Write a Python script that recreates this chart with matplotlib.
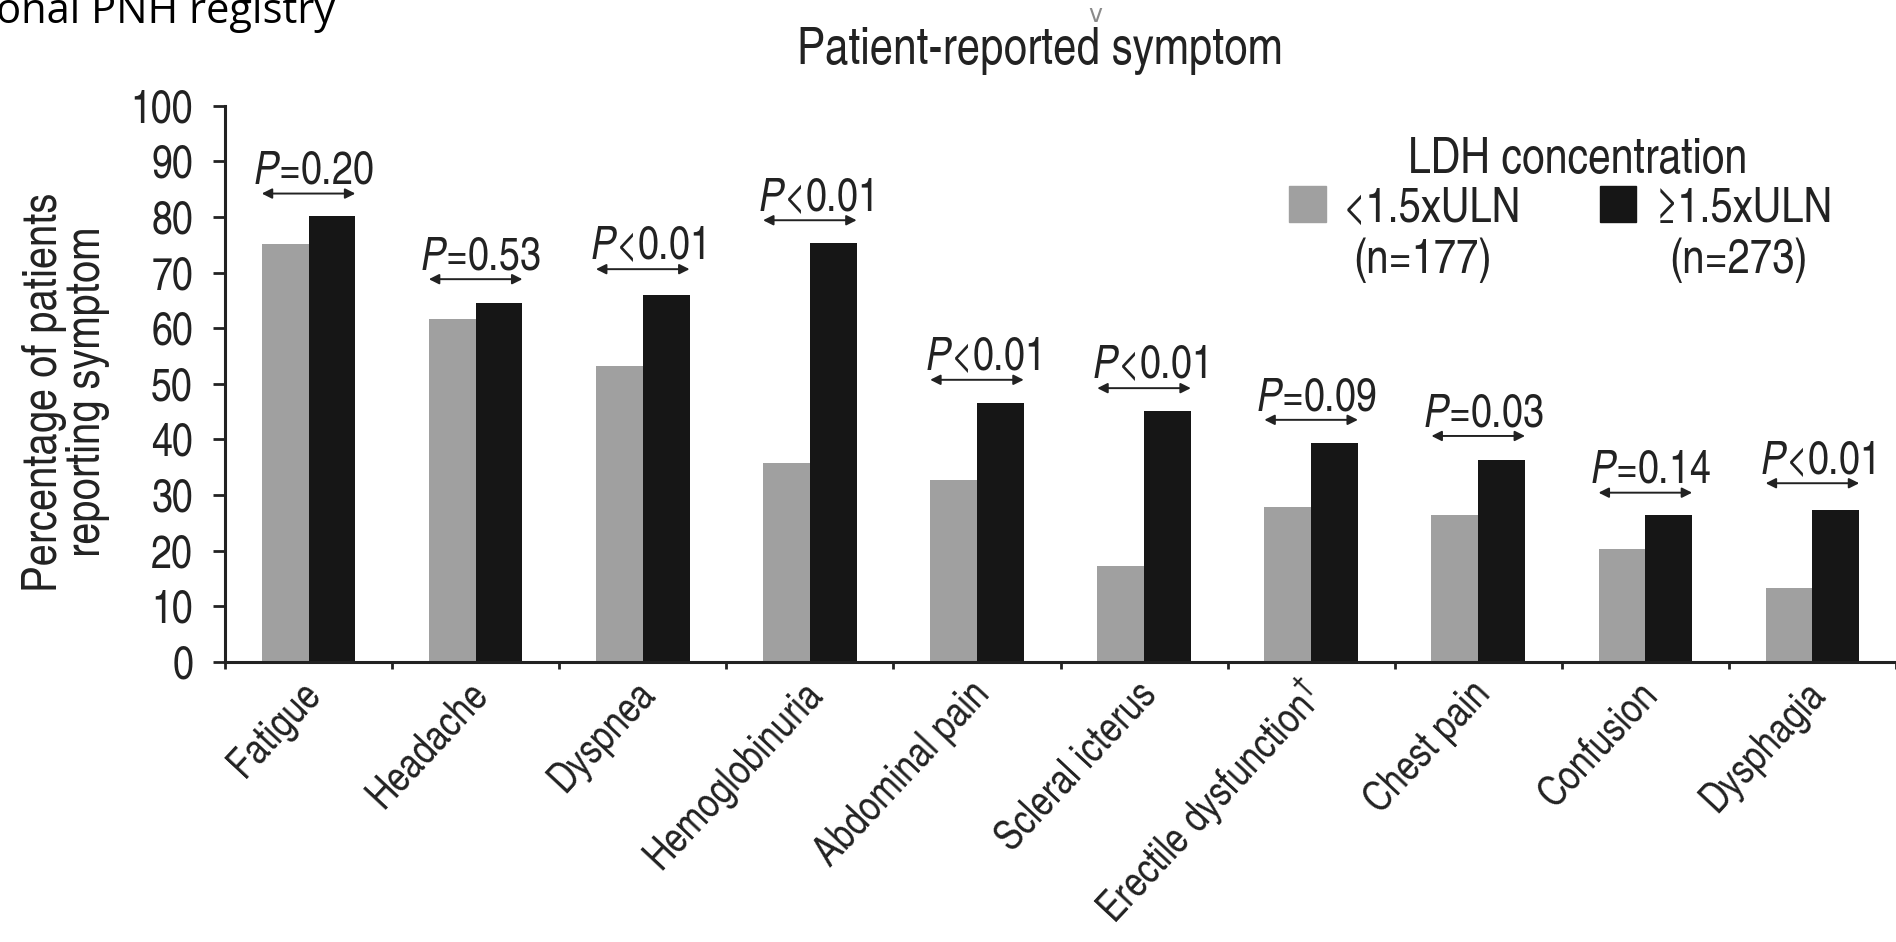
import numpy as np
import matplotlib
matplotlib.use("Agg")
import matplotlib.pyplot as plt
from matplotlib.patches import Rectangle
from matplotlib.transforms import ScaledTranslation

# symptom prevalence (%) by LDH level
symptoms = ['Fatigue', 'Headache', 'Dyspnea', 'Hemoglobinuria', 'Abdominal pain',
            'Scleral icterus', 'Erectile dysfunction$^{\\dagger}$', 'Chest pain',
            'Confusion', 'Dysphagia']
ldh_low = [75.1, 61.7, 53.2, 35.7, 32.6, 17.2, 27.9, 26.4, 20.2, 13.2]
ldh_high = [80.2, 64.5, 66.0, 75.3, 46.6, 45.1, 39.4, 36.2, 26.4, 27.3]
p_values = ['=0.20', '=0.53', '<0.01', '<0.01', '<0.01', '<0.01', '=0.09', '=0.03', '=0.14', '<0.01']
p_bracket_y = [84.2, 68.8, 70.6, 79.4, 50.7, 49.2, 43.5, 40.6, 30.4, 32.1]
y_ticks = list(range(0, 101, 10))

low_label = '<1.5xULN'
high_label = '\u22651.5xULN'
low_n = '(n=177)'
high_n = '(n=273)'

FONT = ['TeX Gyre Heros Cn', 'Liberation Sans', 'DejaVu Sans']
plt.rcParams['font.family'] = FONT
plt.rcParams['mathtext.fontset'] = 'custom'
plt.rcParams['mathtext.rm'] = 'TeX Gyre Heros Cn'
plt.rcParams['mathtext.it'] = 'TeX Gyre Heros Cn:italic'
plt.rcParams['mathtext.sf'] = 'TeX Gyre Heros Cn'

GRAY = '#a0a0a0'
BLACK = '#161616'
TXT = '#222222'

W, H = 1896, 942
fig = plt.figure(figsize=(W / 100, H / 100), dpi=100)


def fx(px):
    return px / W


def fy(py):
    return 1 - py / H


ax = fig.add_axes([fx(225), fy(661.7), fx(W - 225), (661.7 - 105.7) / H])

x = np.arange(len(symptoms))
bw = 0.28
ax.bar(x - bw / 2, ldh_low, bw, color=GRAY, zorder=2)
ax.bar(x + bw / 2, ldh_high, bw, color=BLACK, zorder=2)

# significance brackets
for i, (pv, yb) in enumerate(zip(p_values, p_bracket_y)):
    ax.annotate('', xy=(i - bw, yb), xytext=(i + bw, yb),
                arrowprops=dict(arrowstyle='<|-|>', color=TXT, lw=1.4,
                                mutation_scale=15, shrinkA=0, shrinkB=0))
    ax.annotate('$\\mathit{P}$' + pv, xy=(i + 0.03, yb), xytext=(0, 7),
                textcoords='offset points', ha='center', va='baseline',
                fontsize=33, color=TXT)

ax.set_xlim(-0.5, len(symptoms) - 0.5)
ax.set_ylim(0, 100)
ax.set_yticks(y_ticks)
ax.tick_params(axis='y', labelsize=33, length=9, width=2, pad=14, colors=TXT)

# boundaries get ticks, category centres get the labels
ax.set_xticks(np.arange(len(symptoms) + 1) - 0.5)
ax.set_xticklabels([])
ax.tick_params(axis='x', which='major', length=5, width=2, colors=TXT)
ax.set_xticks(x, minor=True)
ax.set_xticklabels(symptoms, minor=True, rotation=47, ha='right', va='center',
                   rotation_mode='anchor', fontsize=30, color=TXT)
ax.tick_params(axis='x', which='minor', length=0, pad=19)
shift = ScaledTranslation(6 / 100, 0, fig.dpi_scale_trans)
for lbl in ax.get_xticklabels(minor=True):
    lbl.set_transform(lbl.get_transform() + shift)

for side in ['top', 'right']:
    ax.spines[side].set_visible(False)
for side in ['left', 'bottom']:
    ax.spines[side].set_linewidth(2.2)
    ax.spines[side].set_color(TXT)

fig.text(fx(66), fy(392), 'Percentage of patients\nreporting symptom', rotation=90,
         ha='center', va='center', multialignment='center', fontsize=35,
         linespacing=0.95, color=TXT)

fig.text(fx(1040), fy(64), 'Patient-reported symptom', ha='center', va='baseline',
         fontsize=37, color=TXT)
fig.text(fx(1095), fy(22), 'v', ha='center', va='baseline', fontsize=17,
         color='#8a8a8a', family='DejaVu Sans')

fig.text(fx(-4), fy(23), 'onal PNH registry', ha='left', va='baseline',
         fontsize=30, color='black', family='Open Sans')

# legend block
fig.text(fx(1578), fy(173), 'LDH concentration', ha='center', va='baseline',
         fontsize=36, color=TXT)
fig.patches.append(Rectangle((fx(1289), fy(222)), fx(37), 36 / H, color=GRAY,
                             transform=fig.transFigure, figure=fig))
fig.patches.append(Rectangle((fx(1600), fy(222)), fx(36), 36 / H, color=BLACK,
                             transform=fig.transFigure, figure=fig))
fig.text(fx(1343), fy(222), low_label, ha='left', va='baseline', fontsize=35, color=TXT)
fig.text(fx(1655), fy(222), high_label, ha='left', va='baseline', fontsize=35, color=TXT)
fig.text(fx(1423), fy(273), low_n, ha='center', va='baseline', fontsize=35, color=TXT)
fig.text(fx(1738), fy(273), high_n, ha='center', va='baseline', fontsize=35, color=TXT)

fig.savefig('out.png', dpi=100, facecolor='white')
